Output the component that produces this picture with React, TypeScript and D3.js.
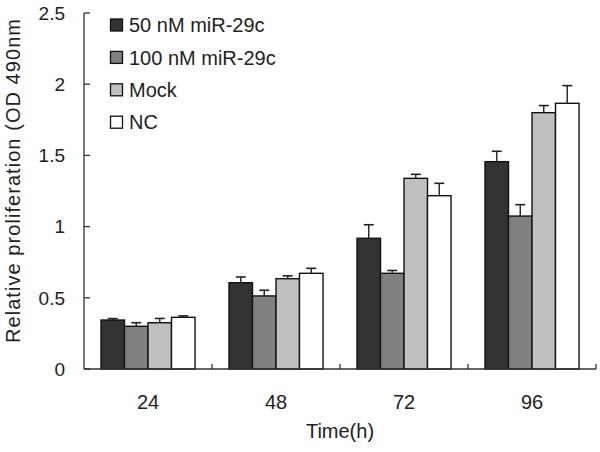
import React from "react";
import * as d3 from "d3";

const categories = ["24", "48", "72", "96"];
const seriesNames = ["50 nM miR-29c", "100 nM miR-29c", "Mock", "NC"];
const s50 = [0.344, 0.606, 0.918, 1.456];
const s100 = [0.3, 0.513, 0.672, 1.074];
const sMock = [0.325, 0.634, 1.339, 1.8];
const sNC = [0.363, 0.672, 1.217, 1.866];
const e50 = [0.01, 0.04, 0.095, 0.073];
const e100 = [0.025, 0.04, 0.02, 0.08];
const eMock = [0.03, 0.02, 0.028, 0.05];
const eNC = [0.01, 0.035, 0.087, 0.124];
const yTicks = [0, 0.5, 1, 1.5, 2, 2.5];
const colors = ["#333333", "#808080", "#c0c0c0", "#ffffff"];

const values = [s50, s100, sMock, sNC];
const errors = [e50, e100, eMock, eNC];

const FONT = "'Liberation Sans', Arial, sans-serif";

export default function App() {
  const y = d3.scaleLinear().domain([0, 2.5]).range([369, 13]);
  const x0 = d3.scaleBand().domain(categories).range([84, 596]);
  const x1 = d3.scaleBand().domain(seriesNames).range([17, 111]);
  const bw = x1.bandwidth();

  return (
    <svg
      width={600}
      height={452}
      style={{ position: "absolute", left: 0, top: 0, background: "#fff" }}
      fontFamily={FONT}
    >
      <rect x={0} y={0} width={600} height={452} fill="#fff" />
      {/* bars */}
      {categories.map((c, ci) =>
        seriesNames.map((s, si) => {
          const v = values[si][ci];
          const e = errors[si][ci];
          const bx = (x0(c) as number) + (x1(s) as number);
          const cx = bx + bw / 2;
          return (
            <g key={c + s}>
              <rect
                x={bx}
                y={y(v)}
                width={bw}
                height={y(0) - y(v)}
                fill={colors[si]}
                stroke="#111"
                strokeWidth={1.4}
              />
              <line x1={cx} x2={cx} y1={y(v)} y2={y(v + e)} stroke="#222" strokeWidth={1.4} />
              <line x1={cx - 5} x2={cx + 5} y1={y(v + e)} y2={y(v + e)} stroke="#222" strokeWidth={1.6} />
            </g>
          );
        })
      )}
      {/* y axis */}
      <line x1={84} x2={84} y1={y(2.5)} y2={y(0)} stroke="#333" strokeWidth={1.3} />
      {yTicks.map((t) => (
        <g key={t}>
          <line x1={84} x2={90} y1={y(t)} y2={y(t)} stroke="#333" strokeWidth={1.3} />
          <text x={65} y={y(t)} dy="0.36em" textAnchor="end" fontSize={19} fill="#222">
            {t}
          </text>
        </g>
      ))}
      {/* x axis */}
      <line x1={84} x2={596} y1={y(0)} y2={y(0)} stroke="#333" strokeWidth={1.3} />
      {categories.map((c) => (
        <line
          key={"t" + c}
          x1={(x0(c) as number) + x0.bandwidth()}
          x2={(x0(c) as number) + x0.bandwidth()}
          y1={y(0)}
          y2={y(0) - 5}
          stroke="#333"
          strokeWidth={1.3}
        />
      ))}
      {categories.map((c) => (
        <text
          key={"l" + c}
          x={(x0(c) as number) + x0.bandwidth() / 2}
          y={409}
          textAnchor="middle"
          fontSize={20}
          fill="#222"
        >
          {c}
        </text>
      ))}
      <text x={340} y={438} textAnchor="middle" fontSize={20} fill="#222">
        Time(h)
      </text>
      <text
        transform="translate(20,343) rotate(-90)"
        x={0}
        y={0}
        fontSize={20}
        fill="#222"
        textLength={324}
        lengthAdjust="spacing"
      >
        Relative proliferation (OD 490nm
      </text>
      {/* legend */}
      {seriesNames.map((s, i) => {
        const cy = 25 + i * 32.4;
        return (
          <g key={"lg" + s}>
            <rect x={110.5} y={cy - 6} width={12} height={12} fill={colors[i]} stroke="#111" strokeWidth={1.3} />
            <text x={129} y={cy} dy="0.36em" fontSize={20} fill="#222">
              {s}
            </text>
          </g>
        );
      })}
    </svg>
  );
}
